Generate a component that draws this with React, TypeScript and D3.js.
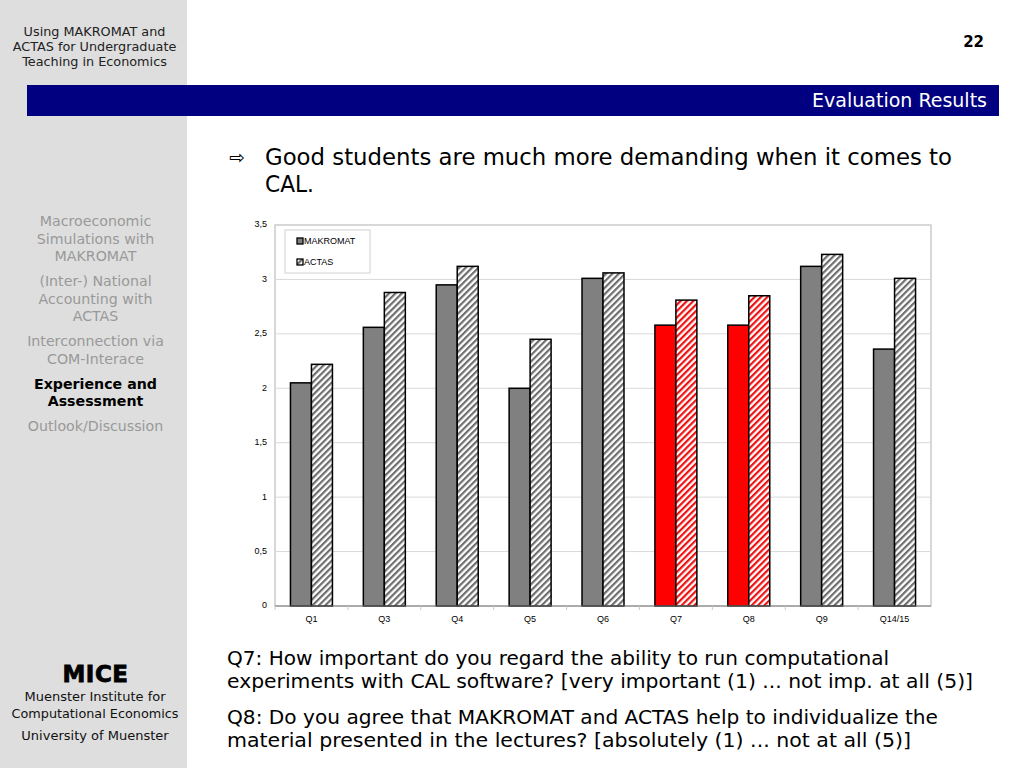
import React from "react";
import * as d3 from "d3";

const categories = ["Q1", "Q3", "Q4", "Q5", "Q6", "Q7", "Q8", "Q9", "Q14/15"];
const makromat = [2.05, 2.56, 2.95, 2.0, 3.01, 2.58, 2.58, 3.12, 2.36];
const actas = [2.22, 2.88, 3.12, 2.45, 3.06, 2.81, 2.85, 3.23, 3.01];
const highlighted = ["Q7", "Q8"];
const yTicks = [0, 0.5, 1, 1.5, 2, 2.5, 3, 3.5];
const seriesNames = ["MAKROMAT", "ACTAS"];

const sidebarTitle = ["Using MAKROMAT and", "ACTAS for Undergraduate", "Teaching in Economics"];
const navItems: { lines: string[]; active: boolean }[] = [
  { lines: ["Macroeconomic", "Simulations with", "MAKROMAT"], active: false },
  { lines: ["(Inter-) National", "Accounting with", "ACTAS"], active: false },
  { lines: ["Interconnection via", "COM-Interace"], active: false },
  { lines: ["Experience and", "Assessment"], active: true },
  { lines: ["Outlook/Discussion"], active: false },
];
const bulletLines = ["Good students are much more demanding when it comes to", "CAL."];
const bulletWidths = [687, 49];
const notes = [
  ["Q7: How important do you regard the ability to run computational", "experiments with CAL software? [very important (1) ... not imp. at all (5)]"],
  ["Q8: Do you agree that MAKROMAT and ACTAS help to individualize the", "material presented in the lectures?  [absolutely (1) ... not at all (5)]"],
];
const noteWidths = [[662, 746], [711, 684]];

const FONT = "Verdana, 'DejaVu Sans', sans-serif";
const CHART_FONT = "Arial, 'Liberation Sans', sans-serif";

export default function App() {
  const W = 1024, H = 768;
  const plot = { left: 275, right: 931, top: 225, bottom: 606 };
  const x = d3.scaleBand<string>().domain(categories).range([plot.left, plot.right]).paddingInner(0).paddingOuter(0);
  const xs = d3.scaleBand<string>().domain(["M", "A"]).range([0, x.bandwidth()]).paddingInner(0).paddingOuter(0.736);
  const y = d3.scaleLinear().domain([0, 3.5]).range([plot.bottom, plot.top]);
  const fmt = (v: number) => d3.format("~g")(v).replace(".", ",");

  const navYs: number[][] = [];
  let cy = 222;
  navItems.forEach((it) => {
    const ys: number[] = [];
    it.lines.forEach(() => {
      ys.push(cy);
      cy += 17.5;
    });
    navYs.push(ys);
    cy += 7.5;
  });

  return (
    <svg width={W} height={H} style={{ position: "absolute", left: 0, top: 0 }} xmlns="http://www.w3.org/2000/svg">
      <defs>
        <pattern id="hatchGray" patternUnits="userSpaceOnUse" width="4.5" height="4.5" patternTransform="rotate(45)">
          <rect width="4.5" height="4.5" fill="#ffffff" />
          <rect width="2.2" height="4.5" fill="#6e6e6e" />
        </pattern>
        <pattern id="hatchRed" patternUnits="userSpaceOnUse" width="4.5" height="4.5" patternTransform="rotate(45)">
          <rect width="4.5" height="4.5" fill="#ffffff" />
          <rect width="2.2" height="4.5" fill="#ee1111" />
        </pattern>
      </defs>
      <rect x={0} y={0} width={W} height={H} fill="#ffffff" />
      {/* sidebar */}
      <rect x={0} y={0} width={187} height={H} fill="#dedede" />
      {sidebarTitle.map((t, i) => (
        <text key={i} x={94.5} y={32 + i * 15} textAnchor="middle" dominantBaseline="middle" fontFamily={FONT} fontSize={12.8} fill="#222">{t}</text>
      ))}
      {navItems.map((it, k) =>
        it.lines.map((t, i) => (
          <text key={k + "-" + i} x={95.5} y={navYs[k][i]} textAnchor="middle" dominantBaseline="middle" fontFamily={FONT} fontSize={14.2}
            fontWeight={it.active ? "bold" : "normal"} fill={it.active ? "#000" : "#999"}>{t}</text>
        ))
      )}
      <text x={95.5} y={675} textAnchor="middle" dominantBaseline="middle" fontFamily={FONT} fontSize={23} fontWeight="bold" fill="#000" stroke="#000" strokeWidth={0.8} letterSpacing={0.5}>MICE</text>
      <text x={95} y={697} textAnchor="middle" dominantBaseline="middle" fontFamily={FONT} fontSize={13} fill="#111">Muenster Institute for</text>
      <text x={95} y={714} textAnchor="middle" dominantBaseline="middle" fontFamily={FONT} fontSize={12.8} fill="#111">Computational Economics</text>
      <text x={95} y={736} textAnchor="middle" dominantBaseline="middle" fontFamily={FONT} fontSize={13} fill="#111">University of Muenster</text>

      {/* header */}
      <text x={984} y={42} textAnchor="end" dominantBaseline="middle" fontFamily={FONT} fontSize={15} fontWeight="bold" fill="#000">22</text>
      <rect x={27} y={85} width={972} height={31} fill="#000080" />
      <text x={987} y={101} textAnchor="end" dominantBaseline="middle" fontFamily={FONT} fontSize={19} fill="#ffffff">Evaluation Results</text>

      {/* bullet */}
      <text x={237} y={158} textAnchor="middle" dominantBaseline="middle" fontFamily="'DejaVu Sans', sans-serif" fontSize={19} fill="#000">⇨</text>
      {bulletLines.map((t, i) => (
        <text key={i} x={265} y={158 + i * 27} dominantBaseline="middle" fontFamily={FONT} fontSize={22.5} fill="#000"
          textLength={bulletWidths[i]} lengthAdjust="spacingAndGlyphs">{t}</text>
      ))}

      {/* chart frame & grid */}
      <rect x={plot.left} y={plot.top} width={plot.right - plot.left} height={plot.bottom - plot.top} fill="#fff" stroke="#b0b0b0" strokeWidth={1} />
      {yTicks.map((t) => (
        <g key={t}>
          {t > 0 && <line x1={plot.left} x2={plot.right} y1={y(t)} y2={y(t)} stroke="#d9d9d9" strokeWidth={1} />}
          <text x={267} y={y(t)} textAnchor="end" dominantBaseline="middle" fontFamily={CHART_FONT} fontSize={9} fill="#000">{fmt(t)}</text>
        </g>
      ))}
      {/* bars */}
      {categories.map((c, i) => {
        const hi = highlighted.includes(c);
        const x0 = x(c)!;
        return (
          <g key={c}>
            <rect x={x0 + xs("M")!} y={y(makromat[i])} width={xs.bandwidth()} height={y(0) - y(makromat[i])}
              fill={hi ? "#ff0000" : "#808080"} stroke="#000" strokeWidth={1.5} />
            <rect x={x0 + xs("A")!} y={y(actas[i])} width={xs.bandwidth()} height={y(0) - y(actas[i])}
              fill={hi ? "url(#hatchRed)" : "url(#hatchGray)"} stroke="#000" strokeWidth={1.5} />
            <text x={x0 + x.bandwidth() / 2} y={620} textAnchor="middle" dominantBaseline="middle" fontFamily={CHART_FONT} fontSize={9} fill="#000">{c}</text>
          </g>
        );
      })}
      <line x1={plot.left} x2={plot.right} y1={plot.bottom} y2={plot.bottom} stroke="#808080" strokeWidth={1} />
      {categories.map((c) => (
        <line key={c} x1={x(c)!} x2={x(c)!} y1={plot.bottom} y2={plot.bottom + 4} stroke="#c8c8c8" strokeWidth={1} />
      ))}

      {/* legend */}
      <rect x={285} y={230} width={85} height={43} fill="#fff" stroke="#d0d0d0" strokeWidth={1} />
      {seriesNames.map((s, i) => (
        <g key={s}>
          <rect x={297} y={238 + i * 21} width={6} height={6} fill={i === 0 ? "#808080" : "url(#hatchGray)"} stroke="#000" strokeWidth={1.3} />
          <text x={304} y={241.5 + i * 21} dominantBaseline="middle" fontFamily={CHART_FONT} fontSize={9} fill="#000">{s}</text>
        </g>
      ))}

      {/* notes */}
      {notes.map((lines, k) =>
        lines.map((t, i) => (
          <text key={k + "-" + i} x={227} y={659 + k * 59 + i * 23} dominantBaseline="middle" fontFamily={FONT} fontSize={19.5} fill="#000"
            textLength={noteWidths[k][i]} lengthAdjust="spacingAndGlyphs">{t}</text>
        ))
      )}
    </svg>
  );
}
